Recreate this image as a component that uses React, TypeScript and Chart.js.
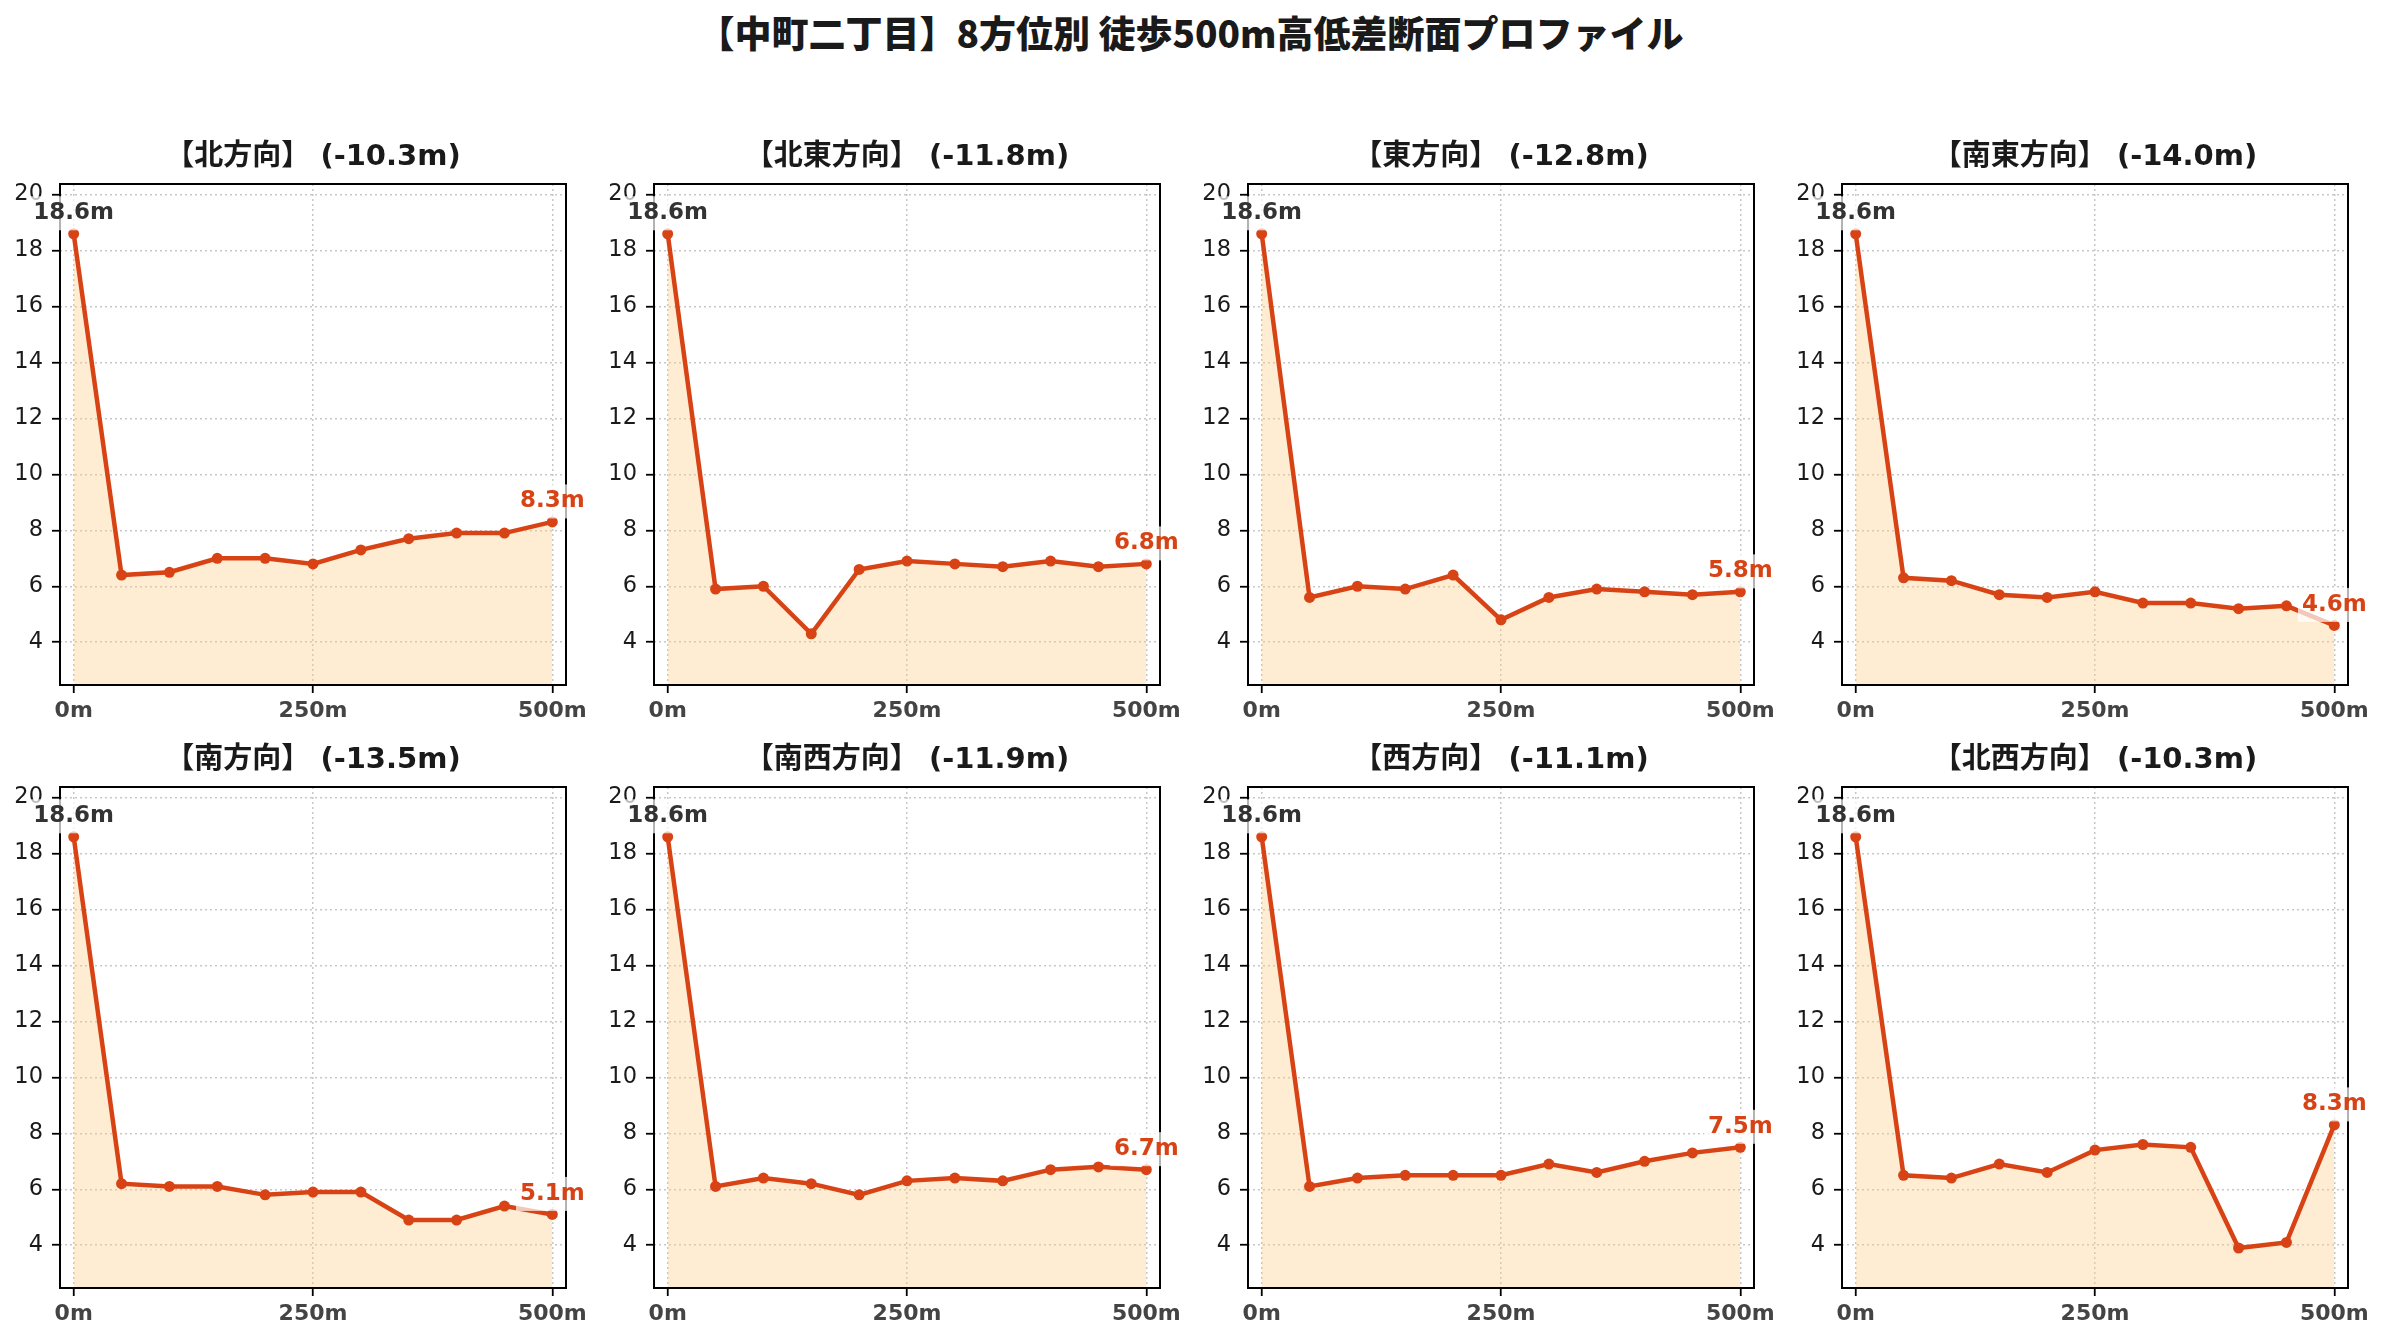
import React, { useEffect, useRef } from 'react';
import { Chart, registerables } from 'chart.js';

Chart.register(...registerables);

// ---- data ----
const distances = [0, 50, 100, 150, 200, 250, 300, 350, 400, 450, 500];
const directionNames = ['北', '北東', '東', '南東', '南', '南西', '西', '北西'];
const elevNorth = [18.6, 6.4, 6.5, 7.0, 7.0, 6.8, 7.3, 7.7, 7.9, 7.9, 8.3];
const elevNorthEast = [18.6, 5.9, 6.0, 4.3, 6.6, 6.9, 6.8, 6.7, 6.9, 6.7, 6.8];
const elevEast = [18.6, 5.6, 6.0, 5.9, 6.4, 4.8, 5.6, 5.9, 5.8, 5.7, 5.8];
const elevSouthEast = [18.6, 6.3, 6.2, 5.7, 5.6, 5.8, 5.4, 5.4, 5.2, 5.3, 4.6];
const elevSouth = [18.6, 6.2, 6.1, 6.1, 5.8, 5.9, 5.9, 4.9, 4.9, 5.4, 5.1];
const elevSouthWest = [18.6, 6.1, 6.4, 6.2, 5.8, 6.3, 6.4, 6.3, 6.7, 6.8, 6.7];
const elevWest = [18.6, 6.1, 6.4, 6.5, 6.5, 6.5, 6.9, 6.6, 7.0, 7.3, 7.5];
const elevNorthWest = [18.6, 6.5, 6.4, 6.9, 6.6, 7.4, 7.6, 7.5, 3.9, 4.1, 8.3];
const allElevations = [
  elevNorth, elevNorthEast, elevEast, elevSouthEast,
  elevSouth, elevSouthWest, elevWest, elevNorthWest,
];
const xTickValues = [0, 250, 500];
const yTickValues = [4, 6, 8, 10, 12, 14, 16, 18, 20];
const mainTitle = '【中町二丁目】8方位別 徒歩500m高低差断面プロファイル';

// ---- style ----
const FONT = '"DejaVu Sans", "Noto Sans CJK JP", sans-serif';
const TITLE_FONT = '"Noto Sans CJK JP", "DejaVu Sans", sans-serif';
const LINE = '#D84315';
const FILL = 'rgba(255, 204, 128, 0.35)';
const GRID = 'rgba(0,0,0,0.22)';
const COL_LEFT = [60, 654, 1248, 1842];
const ROW_TOP = [184, 787];
const AX_W = 506;
const AX_H = 501;
const PAD_L = 60;
const PAD_T = 60;
const PAD_R = 40;
const PAD_B = 50;

function Panel({ name, values, left, top }: { name: string; values: number[]; left: number; top: number }) {
  const ref = useRef<HTMLCanvasElement | null>(null);
  useEffect(() => {
    const canvas = ref.current;
    if (!canvas) return;
    const diff = values[values.length - 1] - values[0];
    const subtitle = `【${name}方向】 (${diff.toFixed(1)}m)`;
    const overlay = {
      id: 'overlay',
      afterDraw(chart: any) {
        const ctx = chart.ctx;
        const a = chart.chartArea;
        ctx.save();
        // frame
        ctx.strokeStyle = '#000';
        ctx.lineWidth = 2;
        ctx.strokeRect(a.left, a.top, a.right - a.left, a.bottom - a.top);
        // subtitle
        ctx.fillStyle = '#1a1a1a';
        ctx.font = `bold 29px ${FONT}`;
        ctx.textAlign = 'center';
        ctx.textBaseline = 'middle';
        ctx.fillText(subtitle, (a.left + a.right) / 2, a.top - 27);
        // annotations
        const meta = chart.getDatasetMeta(0);
        const drawLabel = (idx: number, color: string) => {
          const pt = meta.data[idx];
          const txt = `${values[idx].toFixed(1)}m`;
          ctx.font = `bold 23px ${FONT}`;
          const w = ctx.measureText(txt).width;
          const cx = pt.x;
          const cy = pt.y - 20.5;
          ctx.fillStyle = 'rgba(255,255,255,0.7)';
          ctx.fillRect(cx - w / 2 - 4, cy - 17, w + 8, 34);
          ctx.fillStyle = color;
          ctx.textAlign = 'center';
          ctx.textBaseline = 'middle';
          ctx.fillText(txt, cx, cy);
        };
        drawLabel(0, '#333333');
        drawLabel(values.length - 1, LINE);
        ctx.restore();
      },
    };
    const chart = new Chart(canvas, {
      type: 'line',
      data: {
        datasets: [
          {
            data: distances.map((d, i) => ({ x: d, y: values[i] })),
            borderColor: LINE,
            backgroundColor: FILL,
            fill: 'start',
            borderWidth: 4.5,
            pointRadius: 5.5,
            pointBackgroundColor: LINE,
            pointBorderWidth: 0,
            tension: 0,
          },
        ],
      },
      options: {
        animation: false,
        responsive: false,
        devicePixelRatio: 1,
        layout: { padding: { top: PAD_T, right: PAD_R, left: 0, bottom: 0 } },
        plugins: { legend: { display: false }, tooltip: { enabled: false }, title: { display: false } },
        scales: {
          x: {
            type: 'linear',
            min: -14.3,
            max: 514.3,
            afterFit: (s: any) => { s.height = PAD_B; },
            afterBuildTicks: (s: any) => { s.ticks = xTickValues.map((v) => ({ value: v })); },
            grid: { color: GRID, lineWidth: 1.5, tickColor: '#000', tickLength: 8, tickWidth: 1.8 },
            border: { display: false, dash: [2, 3] },
            ticks: {
              padding: 5,
              color: '#444',
              font: { family: FONT, size: 22, weight: 'bold' },
              maxRotation: 0,
              autoSkip: false,
              callback: (v: any) => `${v}m`,
            },
          },
          y: {
            type: 'linear',
            min: 2.47,
            max: 20.38,
            afterFit: (s: any) => { s.width = PAD_L; },
            afterBuildTicks: (s: any) => { s.ticks = yTickValues.map((v) => ({ value: v })); },
            grid: { color: GRID, lineWidth: 1.5, tickColor: '#000', tickLength: 8, tickWidth: 1.8 },
            border: { display: false, dash: [2, 3] },
            ticks: {
              padding: 9,
              color: '#1a1a1a',
              font: { family: FONT, size: 22.5 },
              autoSkip: false,
              callback: (v: any) => `${v}`,
            },
          },
        },
      },
      plugins: [overlay],
    } as any);
    return () => chart.destroy();
  }, [name, values]);
  const w = PAD_L + AX_W + PAD_R;
  const h = PAD_T + AX_H + PAD_B;
  return (
    <canvas
      ref={ref}
      width={w}
      height={h}
      style={{ position: 'absolute', left: left - PAD_L, top: top - PAD_T, width: w, height: h }}
    />
  );
}

export default function App() {
  return (
    <div style={{ position: 'absolute', left: 0, top: 0, width: 2381, height: 1340, background: '#fff', overflow: 'hidden' }}>
      <div
        style={{
          position: 'absolute', left: 0, top: 11, width: 2381, textAlign: 'center',
          fontFamily: TITLE_FONT, fontWeight: 900, fontSize: 37, lineHeight: '43px', color: '#1a1a1a',
        }}
      >
        {mainTitle}
      </div>
      {allElevations.map((vals, i) => (
        <Panel
          key={i}
          name={directionNames[i]}
          values={vals}
          left={COL_LEFT[i % 4]}
          top={ROW_TOP[Math.floor(i / 4)]}
        />
      ))}
    </div>
  );
}
